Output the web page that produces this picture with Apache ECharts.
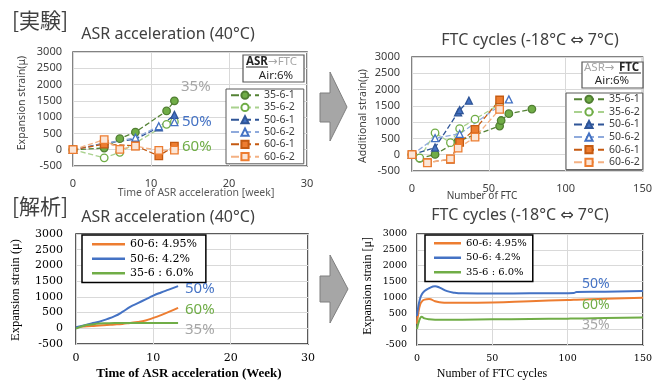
<!DOCTYPE html>
<html>
<head>
<meta charset="utf-8">
<script src="https://cdn.jsdelivr.net/npm/echarts@6/dist/echarts.min.js"></script>
<style>
  html, body { margin: 0; padding: 0; background: #fff; }
  #chart { width: 655px; height: 384px; }
</style>
</head>
<body>
<div id="chart"></div>
<script>
// ---- measured data (experiment) ----
// ASR acceleration: [week, strain]
const asr_35_6_1 = [[0, 0], [4, 50], [6, 340], [8, 540], [12, 1190], [13, 1500]];
const asr_35_6_2 = [[0, 0], [4, -250], [6, -80], [12, 780], [13, 860]];
const asr_50_6_1 = [[0, 0], [4, 200], [8, 320], [11, 690], [13, 1070]];
const asr_50_6_2 = [[0, 0], [4, 180], [8, 370], [11, 720], [13, 850]];
const asr_60_6_1 = [[0, 0], [4, 170], [8, 120], [11, -190], [13, 110]];
const asr_60_6_2 = [[0, 0], [4, 310], [6, 10], [8, 110], [11, -20], [13, -10]];

// FTC: [cycles, additional strain]
const ftc_35_6_1 = [[0, 0], [5, -110], [15, 10], [30, 420], [57, 880], [58, 1050], [63, 1260], [78, 1400]];
const ftc_35_6_2 = [[0, 0], [5, -100], [15, 670], [25, 370], [31, 800], [41, 1090], [57, 1550]];
const ftc_50_6_1 = [[0, 0], [15, 220], [30, 1300], [31, 1370], [37, 1660]];
const ftc_50_6_2 = [[0, 0], [15, 510], [31, 640], [63, 1700]];
const ftc_60_6_1 = [[0, 0], [10, -240], [25, -140], [31, 380], [41, 780], [57, 1680]];
const ftc_60_6_2 = [[0, 0], [10, -250], [25, -130], [30, 200], [41, 540], [57, 1390]];

// ---- analysis curves ----
const simWeeks = [0, 1, 2, 3, 4, 5, 6, 7, 8, 9, 10, 11, 12, 13.2];
const sim50Asr = [30, 90, 150, 210, 290, 385, 520, 680, 800, 920, 1040, 1140, 1230, 1340];
const sim60Asr = [30, 55, 75, 90, 105, 120, 140, 170, 200, 250, 330, 420, 520, 650];
const sim35Asr = [-10, 80, 120, 150, 160, 165, 165, 170, 170, 170, 170, 170, 170, 170];

const simCycles = [0, 1, 2, 3, 5, 8, 12, 15, 20, 25, 30, 50, 75, 100, 104, 106, 125, 150];
const sim50Ftc = [420, 750, 950, 1080, 1200, 1290, 1350, 1310, 1200, 1150, 1130, 1120, 1130, 1135, 1140, 1170, 1180, 1200];
const sim60Ftc = [170, 550, 760, 860, 930, 950, 880, 850, 830, 830, 830, 840, 880, 920, 925, 930, 960, 990];
const sim35Ftc = [0, 200, 330, 390, 340, 310, 300, 300, 295, 295, 300, 310, 320, 330, 335, 335, 350, 370];

const expNames = ['35-6-1', '35-6-2', '50-6-1', '50-6-2', '60-6-1', '60-6-2'];
const simNames = ['60-6: 4.95%', '50-6: 4.2%', '35-6 : 6.0%'];

const SANS = 'Noto Sans, DejaVu Sans';
const SERIF = 'DejaVu Serif';
const chart = echarts.init(document.getElementById('chart'));

const styles = {
  '35-6-1': { symbol: 'circle', line: '#548235', fill: '#70ad47', border: '#507e32' },
  '35-6-2': { symbol: 'circle', line: '#a9d18e', fill: '#ffffff', border: '#70ad47' },
  '50-6-1': { symbol: 'triangle', line: '#2f5597', fill: '#4472c4', border: '#2f5597' },
  '50-6-2': { symbol: 'triangle', line: '#8faadc', fill: '#ffffff', border: '#4472c4' },
  '60-6-1': { symbol: 'rect', line: '#c55a11', fill: '#ed7d31', border: '#c55a11' },
  '60-6-2': { symbol: 'rect', line: '#f4b183', fill: '#fbe5d6', border: '#ed7d31' }
};

const expSeries = (name, data, idx) => {
  const s = styles[name];
  return {
    name, type: 'line', data, xAxisIndex: idx, yAxisIndex: idx,
    symbol: s.symbol, symbolSize: s.symbol === 'triangle' ? 7 : 7.5,
    lineStyle: { color: s.line, type: 'dashed', width: 1.3 },
    itemStyle: { color: s.fill, borderColor: s.border, borderWidth: 1.3 },
    z: 3
  };
};

const simSeries = (name, xs, ys, color, idx) => ({
  name, type: 'line', xAxisIndex: idx, yAxisIndex: idx,
  data: xs.map((x, i) => [x, ys[i]]),
  showSymbol: false, smooth: true,
  lineStyle: { color, width: 2 },
  itemStyle: { color }
});

const plain = (v) => String(v);

const xAxisBase = (min, max, interval, font, size, color, margin) => ({
  type: 'value', min, max, interval,
  axisLine: { show: false }, axisTick: { show: false },
  splitLine: { lineStyle: { color: '#d9d9d9', width: 1 } },
  axisLabel: { fontFamily: font, fontSize: size, color, margin, formatter: plain }
});

const yAxisBase = (font, size, color, margin) => ({
  type: 'value', min: -500, max: 3000, interval: 500,
  axisLine: { show: false }, axisTick: { show: false },
  splitLine: { lineStyle: { color: '#d9d9d9', width: 1 } },
  axisLabel: { fontFamily: font, fontSize: size, color, margin, formatter: plain }
});

const txt = (text, x, y, size, color, opt) => Object.assign({
  type: 'text', x, y, z: 100,
  style: Object.assign({
    text, fill: color, fontSize: size, fontFamily: SANS,
    align: 'center', verticalAlign: 'middle'
  }, (opt && opt.style) || {})
}, opt && opt.rotation ? { rotation: opt.rotation } : {});

const legendBase = (left, top, data, font, size, lh, extra) => Object.assign({
  left, top, orient: 'vertical', data,
  borderColor: '#595959', borderWidth: 1, backgroundColor: '#fff',
  itemGap: 0, selectedMode: false,
  textStyle: { fontFamily: font, fontSize: size, lineHeight: lh, color: '#404040' }
}, extra);

const arrow = (x0, xb, tip, sTop, sBot, hTop, hBot, yTip) => ({
  type: 'polygon', z: 100,
  shape: { points: [[x0, sTop], [xb, sTop], [xb, hTop], [tip, yTip], [xb, hBot], [xb, sBot], [x0, sBot]] },
  style: { fill: '#a6a6a6', stroke: '#7f7f7f', lineWidth: 1 }
});

const option = {
  animation: false,
  grid: [
    { left: 73, top: 52, width: 234, height: 114, show: true, borderColor: '#595959', borderWidth: 1.5 },
    { left: 412, top: 57, width: 233, height: 114, show: true, borderColor: '#595959', borderWidth: 1.5 },
    { left: 76, top: 234, width: 232, height: 110, show: true, borderColor: '#262626', borderWidth: 1.5 },
    { left: 417, top: 234, width: 230, height: 111, show: true, borderColor: '#262626', borderWidth: 1.5 }
  ],
  xAxis: [
    Object.assign(xAxisBase(0, 30, 10, SANS, 11, '#404040', 12), { gridIndex: 0 }),
    Object.assign(xAxisBase(0, 150, 50, SANS, 11, '#404040', 12), { gridIndex: 1 }),
    Object.assign(xAxisBase(0, 30, 10, SERIF, 11, '#000', 9), { gridIndex: 2 }),
    Object.assign(xAxisBase(0, 150, 50, SERIF, 9.5, '#000', 9), { gridIndex: 3 })
  ],
  yAxis: [
    Object.assign(yAxisBase(SANS, 11, '#404040', 11), { gridIndex: 0 }),
    Object.assign(yAxisBase(SANS, 11, '#404040', 12), { gridIndex: 1 }),
    Object.assign(yAxisBase(SERIF, 11, '#000', 13), { gridIndex: 2 }),
    Object.assign(yAxisBase(SERIF, 9.5, '#000', 10), { gridIndex: 3 })
  ],
  legend: [
    legendBase(226, 89, expNames, SANS, 10.5, 12.3, { itemWidth: 28, itemHeight: 9, padding: [0, 9, 1, 4] }),
    legendBase(566, 93, expNames, SANS, 10.5, 12.6, { itemWidth: 30, itemHeight: 9, padding: [0, 3, 1, 7] }),
    legendBase(82, 235, simNames, SERIF, 11, 14.5, {
      icon: 'rect', itemWidth: 33, itemHeight: 2.5, padding: [2, 9, 2, 10],
      borderColor: '#000', borderWidth: 1.5, textStyle: { fontFamily: SERIF, fontSize: 11, lineHeight: 14.5, color: '#000' }
    }),
    legendBase(425, 235, simNames, SERIF, 10, 14.5, {
      icon: 'rect', itemWidth: 27, itemHeight: 2.5, padding: [1, 6, 2, 9],
      borderColor: '#000', borderWidth: 1.5, textStyle: { fontFamily: SERIF, fontSize: 10, lineHeight: 14.5, color: '#000' }
    })
  ],
  series: [
    expSeries('35-6-1', asr_35_6_1, 0),
    expSeries('35-6-2', asr_35_6_2, 0),
    expSeries('50-6-1', asr_50_6_1, 0),
    expSeries('50-6-2', asr_50_6_2, 0),
    expSeries('60-6-1', asr_60_6_1, 0),
    expSeries('60-6-2', asr_60_6_2, 0),
    expSeries('35-6-1', ftc_35_6_1, 1),
    expSeries('35-6-2', ftc_35_6_2, 1),
    expSeries('50-6-1', ftc_50_6_1, 1),
    expSeries('50-6-2', ftc_50_6_2, 1),
    expSeries('60-6-1', ftc_60_6_1, 1),
    expSeries('60-6-2', ftc_60_6_2, 1),
    simSeries('60-6: 4.95%', simWeeks, sim60Asr, '#ed7d31', 2),
    simSeries('50-6: 4.2%', simWeeks, sim50Asr, '#4472c4', 2),
    simSeries('35-6 : 6.0%', simWeeks, sim35Asr, '#70ad47', 2),
    simSeries('60-6: 4.95%', simCycles, sim60Ftc, '#ed7d31', 3),
    simSeries('50-6: 4.2%', simCycles, sim50Ftc, '#4472c4', 3),
    simSeries('35-6 : 6.0%', simCycles, sim35Ftc, '#70ad47', 3)
  ],
  graphic: [
    // section labels and titles
    txt('[実験]', 40, 20, 21, '#404040', { style: { fontFamily: 'Noto Sans CJK JP' } }),
    txt('ASR acceleration (40°C)', 168, 34, 16, '#404040'),
    txt('FTC cycles (-18°C ⇔ 7°C)', 530, 40, 16, '#404040'),
    txt('[解析]', 40, 206, 21, '#404040', { style: { fontFamily: 'Noto Sans CJK JP' } }),
    txt('ASR acceleration (40°C)', 168, 217, 16, '#404040'),
    txt('FTC cycles (-18°C ⇔ 7°C)', 520, 215, 16, '#404040'),

    // axis titles
    txt('Time of ASR acceleration [week]', 196, 193, 10.5, '#595959'),
    txt('Expansion strain(μ)', 22, 103, 10.5, '#404040', { rotation: Math.PI / 2 }),
    txt('Number of FTC', 482, 196, 10, '#404040'),
    txt('Additional strain(μ)', 363, 116, 10.5, '#404040', { rotation: Math.PI / 2 }),
    txt('Time of ASR acceleration (Week)', 189, 374, 13, '#000', { style: { fontFamily: 'Liberation Serif', fontWeight: 'bold' } }),
    txt('Expansion strain (μ)', 16, 290, 12.5, '#000', { rotation: Math.PI / 2, style: { fontFamily: 'Liberation Serif' } }),
    txt('Number of FTC cycles', 492, 374, 12, '#000', { style: { fontFamily: 'Liberation Serif' } }),
    txt('Expansion strain [μ]', 368, 286, 12, '#000', { rotation: Math.PI / 2, style: { fontFamily: 'Liberation Serif' } }),

    // percentage tags
    txt('35%', 181, 87, 15, '#a6a6a6', { style: { align: 'left' } }),
    txt('50%', 182, 122, 15, '#4472c4', { style: { align: 'left' } }),
    txt('60%', 182, 147, 15, '#70ad47', { style: { align: 'left' } }),
    txt('50%', 185, 289, 15, '#4472c4', { style: { align: 'left' } }),
    txt('60%', 185, 310, 15, '#70ad47', { style: { align: 'left' } }),
    txt('35%', 185, 330, 15, '#a6a6a6', { style: { align: 'left' } }),
    txt('50%', 582, 284, 14, '#4472c4', { style: { align: 'left' } }),
    txt('60%', 582, 305, 14, '#70ad47', { style: { align: 'left' } }),
    txt('35%', 582, 325, 14, '#a6a6a6', { style: { align: 'left' } }),

    // condition boxes
    { type: 'rect', z: 99, shape: { x: 243, y: 55, width: 61, height: 27 }, style: { fill: '#fff', stroke: '#595959', lineWidth: 1.2 } },
    txt('ASR', 246, 62, 11.5, '#262626', { style: { align: 'left', fontWeight: 'bold' } }),
    txt('→FTC', 268, 62, 11.5, '#a6a6a6', { style: { align: 'left' } }),
    { type: 'line', z: 100, shape: { x1: 246, y1: 67, x2: 268, y2: 67 }, style: { stroke: '#262626', lineWidth: 1 } },
    txt('Air:6%', 276, 76, 11.5, '#262626'),

    { type: 'rect', z: 99, shape: { x: 582, y: 62, width: 61, height: 26 }, style: { fill: '#fff', stroke: '#595959', lineWidth: 1.2 } },
    txt('ASR→', 584, 68, 11.5, '#a6a6a6', { style: { align: 'left' } }),
    txt('FTC', 619, 68, 11.5, '#262626', { style: { align: 'left', fontWeight: 'bold' } }),
    { type: 'line', z: 100, shape: { x1: 619, y1: 73, x2: 641, y2: 73 }, style: { stroke: '#262626', lineWidth: 1 } },
    txt('Air:6%', 612, 81, 11.5, '#262626'),

    // flow arrows
    arrow(320, 330, 347, 93, 122, 72, 141, 107),
    arrow(320, 330, 348, 276, 302, 255, 323, 289)
  ]
};

chart.setOption(option);
</script>
</body>
</html>
